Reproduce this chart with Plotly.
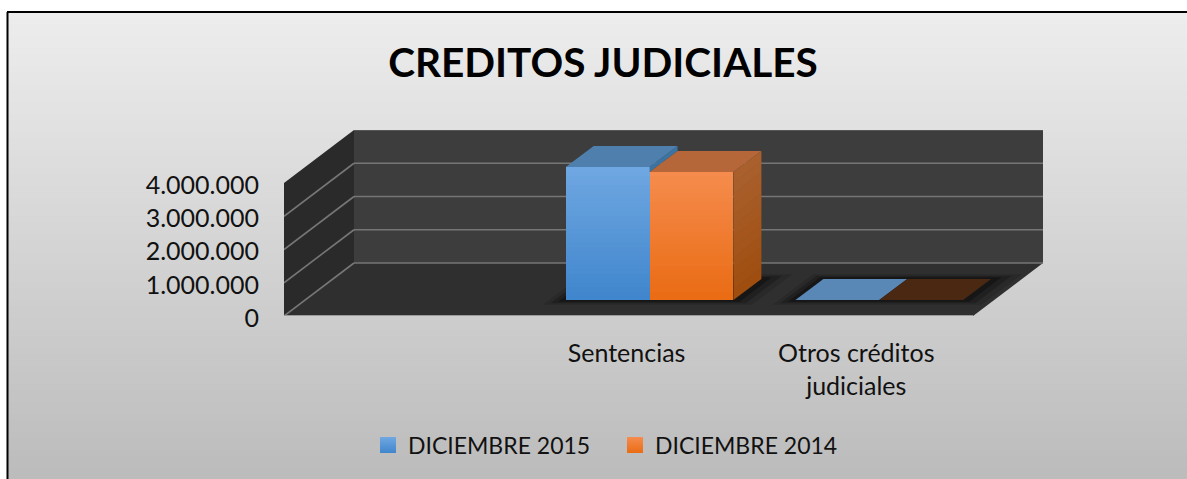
import plotly.graph_objects as go

# ---- data ----
categories = ["", "Sentencias", "Otros créditos<br>judiciales"]
tick_values = [0, 1000000, 2000000, 3000000, 4000000]
tick_labels = ["0", "1.000.000", "2.000.000", "3.000.000", "4.000.000"]
dic_2015 = [None, 4000000, 0]
dic_2014 = [None, 3850000, 0]
title_text = "CREDITOS JUDICIALES"
series_names = ["DICIEMBRE 2015", "DICIEMBRE 2014"]

# ---- 3D look: oblique projection onto the 2D axes ----
L, R, B, T = 284, 1043, 316, 130     # plot area, in page pixels
W, H = 1187, 479
CAT_PX = 229.7
VAL_PX = 33.25e-6
DX, DY = 70 / CAT_PX, 53 / VAL_PX    # shift for a full depth of 1
XMAX = (R - L) / CAT_PX
YMAX = (B - T) / VAL_PX
BAR_D0, BAR_D1 = 0.3, 0.7
GROUP = 0.73
WALL_X = XMAX - DX
WALL_Y = tick_values[-1]

def P(c, v, d=0.0):
    return c + d * DX, v + d * DY

def poly(points):
    xy = [P(*p) for p in points]
    return "M" + "L".join(f"{x},{y}" for x, y in xy) + "Z"

def mix(a, b, t):
    return "#" + "".join(f"{round(a[i] + (b[i] - a[i]) * t):02x}" for i in range(3))

def pfx(px):
    return (px - L) / (R - L)

def pfy(py):
    return (B - py) / (B - T)

shapes = []
# page gradient
BG_TOP, BG_BOT = (238, 238, 238), (187, 187, 187)
STEP = 6
for py in range(0, H, STEP):
    shapes.append(dict(type="rect", xref="paper", yref="paper", layer="below",
                       x0=pfx(0), x1=pfx(W), y0=pfy(py), y1=pfy(py + STEP + 1),
                       line_width=0, fillcolor=mix(BG_TOP, BG_BOT, py / H)))
# walls and floor
def wall(points, color):
    shapes.append(dict(type="path", xref="x", yref="y", layer="below", path=poly(points),
                       line_width=0, fillcolor=color))

wall([(0, 0, 1), (WALL_X, 0, 1), (WALL_X, WALL_Y, 1), (0, WALL_Y, 1)], "#3d3d3d")
wall([(0, 0, 0), (0, 0, 1), (0, WALL_Y, 1), (0, WALL_Y, 0)], "#2a2a2a")
wall([(0, 0, 0), (WALL_X, 0, 0), (WALL_X, 0, 1), (0, 0, 1)], "#2f2f2f")

# gridlines: along the left wall, then the back wall
def seg(a, b, color, width=1.6):
    xa, ya = P(*a)
    xb, yb = P(*b)
    shapes.append(dict(type="line", xref="x", yref="y", layer="below", x0=xa, y0=ya, x1=xb, y1=yb,
                       line=dict(color=color, width=width)))

for v in tick_values:
    if v != WALL_Y:
        seg((0, v, 0), (0, v, 1), "#767676")
        seg((0, v, 1), (WALL_X, v, 1), "#767676")
    else:
        seg((0, v, 1), (WALL_X, v, 1), "#5e5e5e")
seg((0, 0, 0), (WALL_X, 0, 0), "#9a9a9a", 2)

# soft contact shadows under the bars
n_cat = len(categories)
for c in range(1, n_cat):
    x0, x1 = c + 0.5 - GROUP / 2, c + 0.5 + GROUP / 2
    for grow, alpha in [(0.09, 0.12), (0.06, 0.2), (0.03, 0.3)]:
        shapes.append(dict(type="path", xref="x", yref="y", layer="below",
                           path=poly([(x0 - grow * 0.8, 0, BAR_D0 - grow), (x1 + grow * 1.2, 0, BAR_D0 - grow),
                                      (x1 + grow * 1.2, 0, BAR_D1 + grow), (x0 - grow * 0.8, 0, BAR_D1 + grow)]),
                           line_width=0, fillcolor=f"rgba(0,0,0,{alpha})"))

# page frame: white margin left and above, black line on those two sides
FRAME = "#000000"
shapes.append(dict(type="rect", xref="paper", yref="paper", layer="below", x0=pfx(0), x1=pfx(7), y0=pfy(0), y1=pfy(H),
                   line_width=0, fillcolor="#ffffff"))
shapes.append(dict(type="rect", xref="paper", yref="paper", layer="below", x0=pfx(0), x1=pfx(W), y0=pfy(0), y1=pfy(11),
                   line_width=0, fillcolor="#ffffff"))
shapes.append(dict(type="line", xref="paper", yref="paper", layer="below", x0=pfx(7), x1=pfx(W), y0=pfy(12), y1=pfy(12),
                   line=dict(color=FRAME, width=2)))
shapes.append(dict(type="line", xref="paper", yref="paper", layer="below", x0=pfx(7.5), x1=pfx(7.5), y0=pfy(12), y1=pfy(H),
                   line=dict(color=FRAME, width=2)))

fig = go.Figure()

STYLES = [
    dict(front_top=(112, 168, 226), front_bot=(64, 134, 204), top="#4f80ad", top_flat="#5a88b6",
         side_top=(58, 116, 164), side_bot=(58, 116, 164)),
    dict(front_top=(245, 140, 78), front_bot=(234, 108, 20), top="#b5673a", top_flat="#4a2812",
         side_top=(170, 98, 48), side_bot=(160, 78, 16)),
]
SERIES = [dic_2015, dic_2014]
N_SLICE = 30
bw = GROUP / 2

def add_poly(points, color):
    xy = [P(*p) for p in points]
    xy.append(xy[0])
    fig.add_trace(go.Scatter(x=[p[0] for p in xy], y=[p[1] for p in xy], mode="lines", fill="toself",
                             fillcolor=color, line=dict(width=0), showlegend=False, hoverinfo="skip"))

for s, (vals, st) in enumerate(zip(SERIES, STYLES)):
    bx, by, bb, bc = [], [], [], []
    for c in range(1, n_cat):
        v = vals[c]
        x0 = c + 0.5 - GROUP / 2 + s * bw
        fx, base = P(x0 + bw / 2, 0, BAR_D0)
        if v > 0:
            for i in range(N_SLICE):
                b = v * i / N_SLICE
                bx.append(fx)
                bb.append(base + b)
                by.append(v - b)
                bc.append(mix(st["front_bot"], st["front_top"], i / N_SLICE))
    fig.add_trace(go.Bar(x=bx, y=by, base=bb, width=bw, marker=dict(color=bc, line_width=0),
                         showlegend=False, hoverinfo="skip"))

for s, (vals, st) in enumerate(zip(SERIES, STYLES)):
    for c in range(1, n_cat):
        v = vals[c]
        x0 = c + 0.5 - GROUP / 2 + s * bw
        x1 = x0 + bw
        # side face: only the part not hidden by the neighbour on the right
        low = SERIES[s + 1][c] if s + 1 < len(SERIES) else 0
        if v > low:
            n = 12 if low == 0 else 1
            for i in range(n):
                a, b = low + (v - low) * i / n, low + (v - low) * (i + 1.05) / n
                b = min(b, v)
                add_poly([(x1, a, BAR_D0), (x1, a, BAR_D1), (x1, b, BAR_D1), (x1, b, BAR_D0)],
                         mix(st["side_bot"], st["side_top"], i / n))
        add_poly([(x0, v, BAR_D0), (x1, v, BAR_D0), (x1, v, BAR_D1), (x0, v, BAR_D1)],
                 st["top"] if v > 0 else st["top_flat"])

# legend entries with their gradient squares
for name, st in zip(series_names, STYLES):
    fig.add_trace(go.Scatter(x=[None], y=[None], mode="markers", name=name,
                             marker=dict(symbol="square", size=16, color=mix(st["front_top"], st["front_top"], 0),
                                         gradient=dict(type="vertical", color=mix(st["front_bot"], st["front_bot"], 0)))))

fig.update_layout(
    width=W, height=H, autosize=False,
    margin=dict(l=L, r=W - R, t=T, b=H - B, pad=0),
    paper_bgcolor="#ffffff", plot_bgcolor="rgba(0,0,0,0)",
    barmode="overlay", bargap=0, shapes=shapes, showlegend=True,
    font=dict(family="Lato, Carlito, sans-serif", color="#111111", size=24),
    title=dict(text=f"<b>{title_text}</b>", x=603 / W, xref="container", xanchor="center",
               y=1 - 63 / H, yref="container", yanchor="middle", font=dict(size=40.5, color="#000000")),
    legend=dict(orientation="h", x=pfx(368), y=pfy(445), xanchor="left", yanchor="middle",
                bgcolor="rgba(0,0,0,0)", font=dict(size=23), itemwidth=30, entrywidth=202,
                entrywidthmode="pixels", traceorder="normal"),
    xaxis=dict(range=[0, XMAX], showgrid=False, zeroline=False, showline=False, ticks="",
               tickmode="array", tickvals=[c + 0.5 for c in range(1, n_cat)], ticktext=categories[1:],
               ticklabelstandoff=20, ticklabelshift=-2, tickfont=dict(size=25)),
    yaxis=dict(range=[0, YMAX], showgrid=False, zeroline=False, showline=False, ticks="",
               tickmode="array", tickvals=tick_values, ticktext=tick_labels,
               ticklabelstandoff=24, ticklabelshift=2, tickfont=dict(size=25)),
)
fig.write_html("out.html", config={"displayModeBar": False},
               post_script="document.body.style.margin='0';document.body.style.overflow='hidden';")
